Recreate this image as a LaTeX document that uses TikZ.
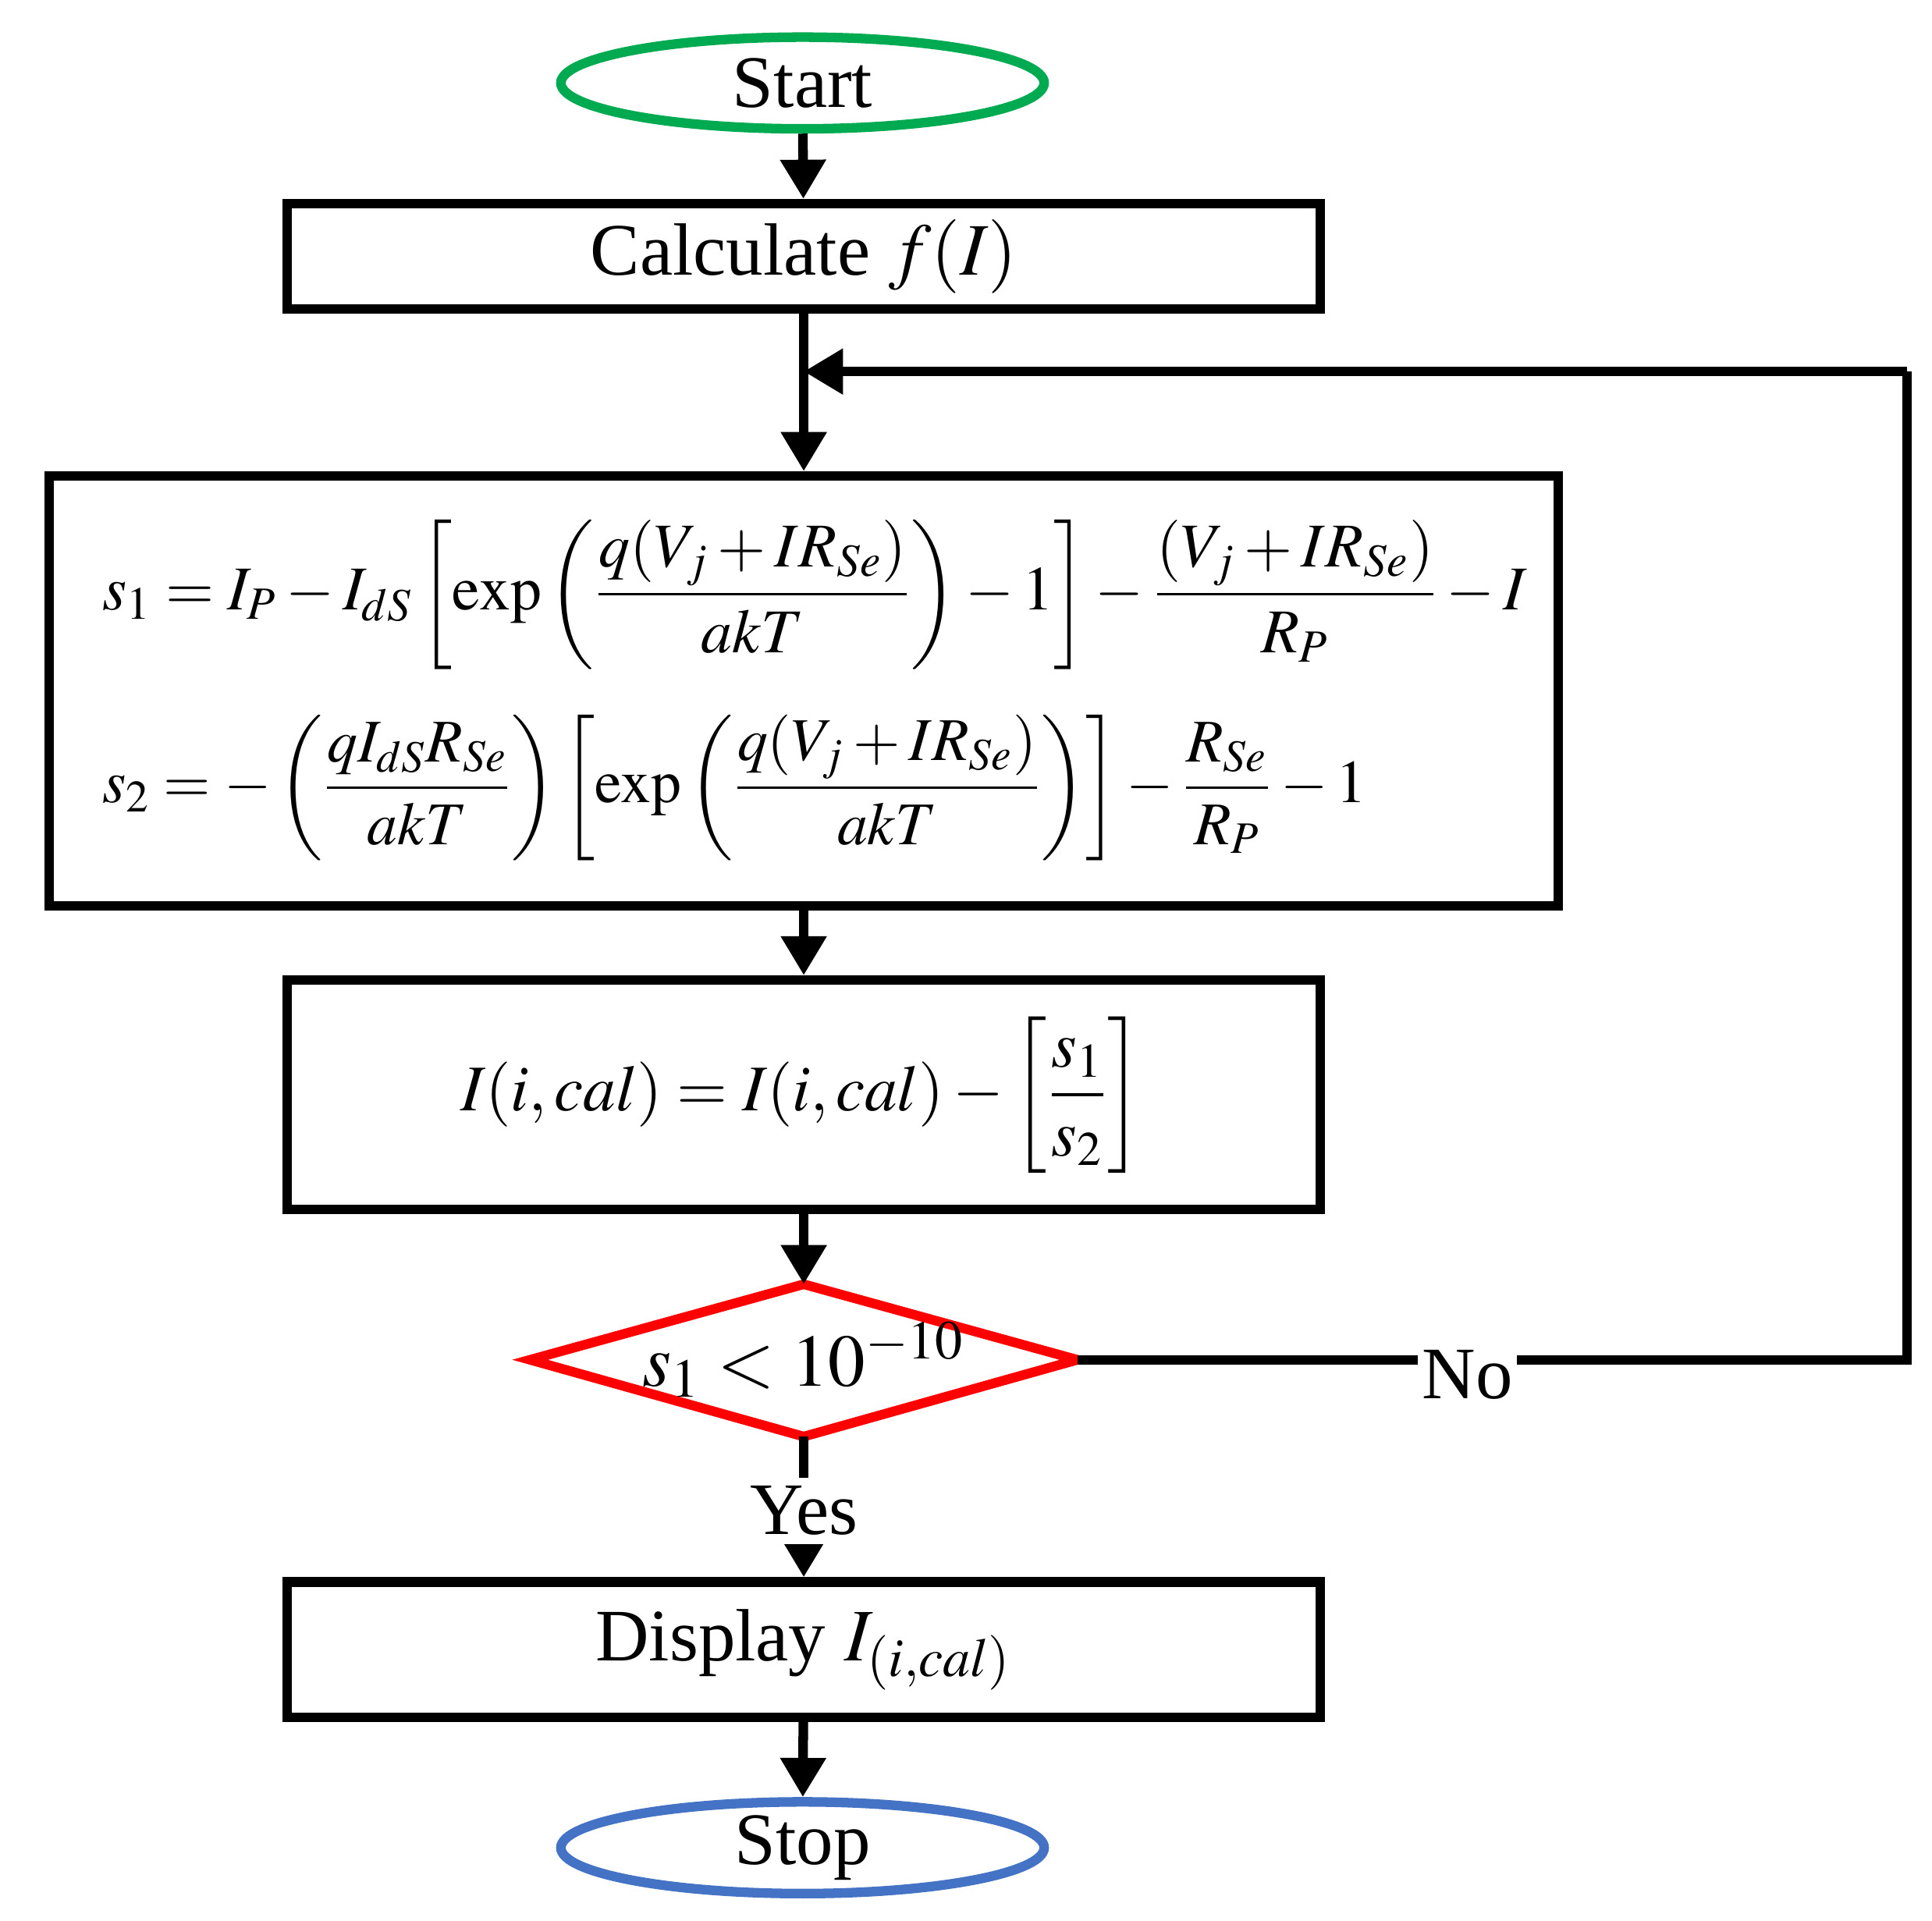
\documentclass[tikz,border=0pt]{standalone}
\usepackage{amsmath}
\usepackage{mathptmx}
\usepackage{fontspec}
\setmainfont{Liberation Serif}
\usetikzlibrary{shapes.geometric,arrows.meta}
\begin{document}
\begin{tikzpicture}[x=0.01cm,y=-0.01cm,
  every node/.style={font=\fontsize{17}{21}\selectfont},
  box/.style={draw,line width=2.2pt,inner sep=0pt},
  ell/.style={draw,ellipse,line width=2.2pt,inner sep=0pt},
  arr/.style={line width=2.2pt,-{Triangle[length=9pt,width=10pt]}},
  ln/.style={line width=2.2pt}]
\useasboundingbox (0,0) rectangle (1560,1551);
\node[ell,draw={rgb,255:red,0;green,170;blue,80},minimum width=3.9cm,minimum height=0.74cm] (start) at (648,67) {Start};
\node[box,minimum width=8.34cm,minimum height=0.85cm] (calc) at (649,207) {Calculate $f(I)$};
\coordinate (join) at (649,300);
\node[box,minimum width=12.18cm,minimum height=3.47cm] (eq) at (649,558) {};
\node[anchor=west,inner sep=0pt] (e1) at (82,480) {\resizebox{11.5cm}{!}{$\displaystyle s_1=I_P-I_{dS}\left[\exp\left(\frac{q(V_j+IR_{Se})}{akT}\right)-1\right]-\frac{(V_j+IR_{Se})}{R_P}-I$}};
\node[anchor=west,inner sep=0pt] (e2) at (82,636) {\resizebox{10.2cm}{!}{$\displaystyle s_2=-\left(\frac{qI_{dS}R_{Se}}{akT}\right)\left[\exp\left(\frac{q(V_j+IR_{Se})}{akT}\right)\right]-\frac{R_{Se}}{R_P}-1$}};
\node[box,minimum width=8.34cm,minimum height=1.85cm] (upd) at (649,884) {};
\node[inner sep=0pt] (updt) at (647,884) {\resizebox{5.5cm}{!}{$\displaystyle I(i,cal)=I(i,cal)-\left[\frac{s_1}{s_2}\right]$}};
\coordinate (dT) at (649,1037);
\coordinate (dB) at (649,1160);
\coordinate (dL) at (428,1098);
\coordinate (dR) at (870,1098);
\draw[red,line width=2.2pt,line join=miter] (dT) -- (dR) -- (dB) -- (dL) -- cycle;
\node (dec) at (649,1098) {$s_1<10^{-10}$};
\node[box,minimum width=8.34cm,minimum height=1.09cm] (disp) at (649,1332) {Display $I_{(i,cal)}$};
\node[ell,draw={rgb,255:red,68;green,114;blue,196},minimum width=3.9cm,minimum height=0.74cm] (stop) at (648,1492) {Stop};
\coordinate (c1) at (1540,1098);
\coordinate (c2) at (1540,300);
\draw[arr] (start) -- (calc);
\draw[arr] (calc) -- (eq);
\draw[arr] (eq) -- (upd);
\draw[arr] (upd) -- (dT);
\draw[arr] (dB) -- (disp);
\node[fill=white,inner sep=2pt] (yes) at (649,1220) {Yes};
\draw[arr] (disp) -- (stop);
\draw[ln] (dR) -- (c1) -- (c2);
\node[fill=white,inner sep=1pt] (no) at (1185,1110) {No};
\draw[arr] (c2) -- (join);
\end{tikzpicture}
\end{document}
